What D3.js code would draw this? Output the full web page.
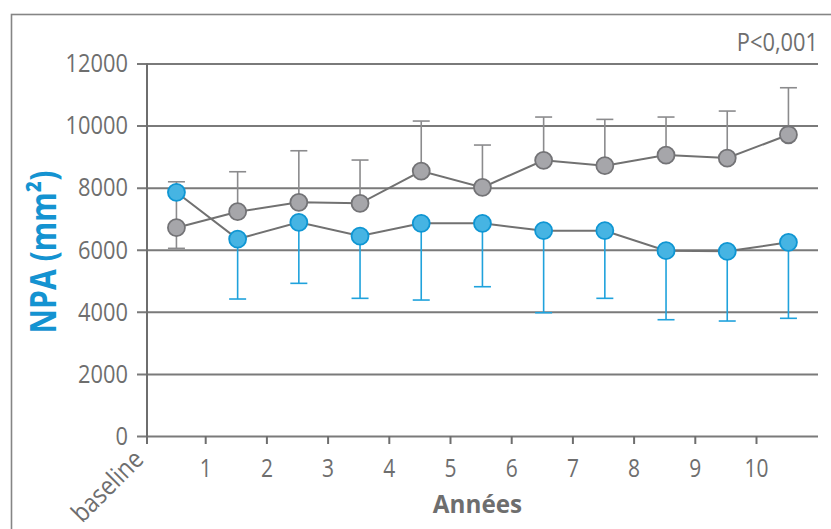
<!DOCTYPE html>
<html>
<head>
<meta charset="utf-8">
<script src="https://cdn.jsdelivr.net/npm/d3@7"></script>
<style>
  body { margin: 0; background: #fff; }
  svg text { font-family: "Open Sans", sans-serif; }
</style>
</head>
<body>
<div id="chart"></div>
<script>
// Data
const categories = ['baseline', '1', '2', '3', '4', '5', '6', '7', '8', '9', '10'];
const xTickLabels = ['1', '2', '3', '4', '5', '6', '7', '8', '9', '10'];
const yTickValues = [0, 2000, 4000, 6000, 8000, 10000, 12000];

const greyMean  = [6710, 7225, 7527, 7495, 8536, 8010, 8880, 8707, 9051, 8954, 9705];
const greyTop   = [8190, 8513, 9189, 8890, 10146, 9373, 10275, 10200, 10275, 10468, 11219];
const greyLow   = [6045, 7225, 7527, 7495, 8536, 8010, 8880, 8707, 9051, 8954, 9705];
const blueMean  = [7850, 6345, 6883, 6442, 6851, 6851, 6613, 6613, 5969, 5948, 6239];
const blueLow   = [null, 4413, 4918, 4435, 4380, 4809, 3971, 4435, 3746, 3704, 3791];

// Dimensions
const W = 831, H = 529;
const gridLeft = 137, gridRight = 818;
const axisX = 147;
const textGrey = '#6e6e6e';
const sx = 0.84; // condensed look of the original typeface

const svg = d3.select('#chart')
  .append('svg')
  .attr('width', W)
  .attr('height', H);

// Frame
svg.append('rect')
  .attr('x', 11.5).attr('y', 14.5)
  .attr('width', 840).attr('height', 540)
  .attr('fill', 'none')
  .attr('stroke', '#858585')
  .attr('stroke-width', 1.6);

// Scales
const x = d3.scaleLinear().domain([0, 11]).range([144, 817.2]);
const y = d3.scaleLinear().domain([0, 12000]).range([436, 63.5]);
const px = i => x(i + 0.53);

// Y grid + labels
const yAxis = d3.axisLeft(y)
  .tickValues(yTickValues)
  .tickSize(-(gridRight - gridLeft))
  .tickPadding(9)
  .tickFormat(d3.format('d'));

const yAxisG = svg.append('g')
  .attr('transform', `translate(${gridLeft},0)`)
  .call(yAxis);
yAxisG.select('.domain').remove();
yAxisG.selectAll('line').attr('stroke', '#7a7a7a').attr('stroke-width', 2);
yAxisG.selectAll('text')
  .attr('x', -9 / sx)
  .attr('transform', `scale(${sx},1)`)
  .attr('fill', textGrey)
  .style('font-size', '26px');

// X axis ticks
const xAxis = d3.axisBottom(x)
  .tickValues(d3.range(1, 11))
  .tickSize(8)
  .tickPadding(15)
  .tickFormat((d, i) => xTickLabels[i]);
const xAxisG = svg.append('g')
  .attr('transform', `translate(0,${y(0)})`)
  .call(xAxis);
xAxisG.select('.domain').remove();
xAxisG.selectAll('line').attr('stroke', textGrey).attr('stroke-width', 2);
xAxisG.selectAll('text')
  .attr('transform', `scale(${sx},1)`)
  .attr('fill', textGrey)
  .style('font-size', '25px');

// Y axis line
svg.append('line')
  .attr('x1', axisX).attr('x2', axisX)
  .attr('y1', y(12000)).attr('y2', y(0) + 8)
  .attr('stroke', textGrey)
  .attr('stroke-width', 2);

// baseline label
svg.append('text')
  .attr('transform', `translate(${axisX - 2},${y(0) + 25}) rotate(-45) scale(0.88,1)`)
  .attr('text-anchor', 'end')
  .attr('fill', textGrey)
  .style('font-size', '26px')
  .text(categories[0]);

// Axis titles
svg.append('text')
  .attr('transform', `translate(${px(5) - 5},513) scale(0.97,1)`)
  .attr('text-anchor', 'middle')
  .attr('fill', textGrey)
  .style('font-size', '25px')
  .style('font-weight', 'bold')
  .text('Années');

svg.append('text')
  .attr('transform', 'translate(56,252) rotate(-90) scale(0.86,1)')
  .attr('text-anchor', 'middle')
  .attr('fill', '#1493d1')
  .style('font-size', '35px')
  .style('font-weight', 'bold')
  .text('NPA (mm²)');

svg.append('text')
  .attr('transform', `translate(${gridRight},51) scale(${sx},1)`)
  .attr('text-anchor', 'end')
  .attr('fill', textGrey)
  .style('font-size', '26px')
  .text('P<0,001');

// Error bars
const cap = 8.5;
function whiskers(cls, lows, highs, color) {
  const idx = d3.range(categories.length).filter(i => lows[i] != null && highs[i] != null);
  const g = svg.append('g').attr('class', cls);
  g.selectAll('line.v').data(idx).enter().append('line')
    .attr('class', 'v')
    .attr('x1', i => px(i)).attr('x2', i => px(i))
    .attr('y1', i => y(lows[i])).attr('y2', i => y(highs[i]))
    .attr('stroke', color).attr('stroke-width', 1.6);
  return g;
}

const gw = whiskers('grey-err', greyLow, greyTop, '#8b8b8d');
gw.selectAll('line.cap').data(d3.range(categories.length)).enter().append('line')
  .attr('class', 'cap')
  .attr('x1', i => px(i) - cap).attr('x2', i => px(i) + cap)
  .attr('y1', i => y(greyTop[i])).attr('y2', i => y(greyTop[i]))
  .attr('stroke', '#8b8b8d').attr('stroke-width', 1.6);
gw.append('line')
  .attr('x1', px(0) - cap).attr('x2', px(0) + cap)
  .attr('y1', y(greyLow[0])).attr('y2', y(greyLow[0]))
  .attr('stroke', '#8b8b8d').attr('stroke-width', 1.6);

const bw = whiskers('blue-err', blueLow, blueMean, '#1fa2dc');
bw.selectAll('line.cap').data(d3.range(categories.length).filter(i => blueLow[i] != null)).enter().append('line')
  .attr('class', 'cap')
  .attr('x1', i => px(i) - cap).attr('x2', i => px(i) + cap)
  .attr('y1', i => y(blueLow[i])).attr('y2', i => y(blueLow[i]))
  .attr('stroke', '#1fa2dc').attr('stroke-width', 1.6);

// Lines
const line = d3.line().x((d, i) => px(i)).y(d => y(d));
[greyMean, blueMean].forEach(s => {
  svg.append('path')
    .datum(s)
    .attr('d', line)
    .attr('fill', 'none')
    .attr('stroke', '#717171')
    .attr('stroke-width', 2);
});

// Points
function points(cls, data, fill, stroke) {
  svg.append('g').attr('class', cls)
    .selectAll('circle')
    .data(data)
    .enter()
    .append('circle')
    .attr('cx', (d, i) => px(i))
    .attr('cy', d => y(d))
    .attr('r', 8.5)
    .attr('fill', fill)
    .attr('stroke', stroke)
    .attr('stroke-width', 1.8);
}
points('grey-pts', greyMean, '#a6a6aa', '#737376');
points('blue-pts', blueMean, '#46b4e3', '#0f96d3');
</script>
</body>
</html>
